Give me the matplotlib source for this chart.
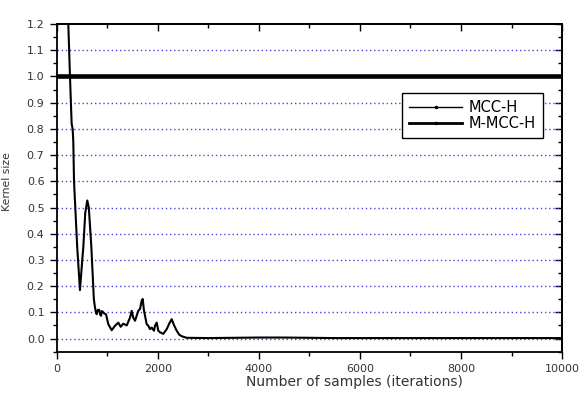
import numpy as np
import matplotlib.pyplot as plt
from matplotlib.lines import Line2D
from matplotlib.ticker import MultipleLocator

plt.rcParams['font.family'] = ['DejaVu Sans']

# MCC-H curve
mcc_x = [150, 224, 257, 290, 310, 323, 337, 400, 455, 500, 521, 560, 600, 630, 680,
         730, 752, 770, 786, 810, 838, 855, 871, 890, 917, 940, 970, 1016, 1083,
         1149, 1194, 1214, 1261, 1313, 1380, 1446, 1479, 1510, 1545, 1610, 1644,
         1677, 1697, 1720, 1743, 1776, 1808, 1842, 1875, 1920, 1941, 1974, 2006,
         2040, 2105, 2172, 2230, 2271, 2320, 2370, 2420, 2469, 2568, 3000, 3500,
         4000, 4500, 5000, 5500, 10000]
mcc_y = [1.45, 1.2, 1.0, 0.82, 0.80, 0.75, 0.6, 0.35, 0.185, 0.30, 0.349, 0.48, 0.527,
         0.50, 0.35, 0.15, 0.119, 0.10, 0.093, 0.11, 0.109, 0.092, 0.087, 0.105,
         0.10, 0.095, 0.093, 0.055, 0.032, 0.049, 0.057, 0.061, 0.045, 0.057,
         0.05, 0.08, 0.106, 0.08, 0.068, 0.106, 0.113, 0.144, 0.151, 0.11, 0.087,
         0.055, 0.049, 0.036, 0.042, 0.03, 0.049, 0.061, 0.03, 0.024, 0.018,
         0.036, 0.06, 0.074, 0.05, 0.03, 0.015, 0.009, 0.003, 0.002, 0.003,
         0.004, 0.004, 0.003, 0.002, 0.002]

# M-MCC-H stays at 1.0
mmcc_x = [0, 10000]
mmcc_y = [1.0, 1.0]

fig = plt.figure(figsize=(5.81, 4.03), dpi=100)
ax = fig.add_axes([0.0981, 0.1273, 0.8692, 0.8131])

for g in np.arange(0.0, 1.15, 0.1):
    ax.axhline(g, color='#4646d8', linestyle=(0, (1, 2)), linewidth=1.0, zorder=1)

ax.plot(mcc_x, mcc_y, color='black', linewidth=1.5, zorder=3)
ax.plot(mmcc_x, mmcc_y, color='black', linewidth=3.3, zorder=4)

ax.set_xlim(0, 10000)
ax.set_ylim(-0.05, 1.2)
ax.xaxis.set_major_locator(MultipleLocator(2000))
ax.xaxis.set_minor_locator(MultipleLocator(1000))
ax.yaxis.set_major_locator(MultipleLocator(0.1))
ax.yaxis.set_minor_locator(MultipleLocator(0.05))
ax.yaxis.set_major_formatter(plt.FormatStrFormatter('%.1f'))

# outer ticks on left/bottom, inner ticks on top/right
ax.tick_params(which='both', direction='out', labelsize=8, color='black',
               labelcolor='#333333', width=1.0)
ax.tick_params(which='major', length=5, pad=4)
ax.tick_params(which='minor', length=3)
sx = ax.secondary_xaxis('top')
sx.set_xticks(range(0, 10001, 2000))
sx.set_xticks(range(1000, 10001, 2000), minor=True)
sx.tick_params(which='both', direction='in', labeltop=False, width=1.0)
sx.tick_params(which='major', length=5)
sx.tick_params(which='minor', length=3)
sy = ax.secondary_yaxis('right')
sy.set_yticks(np.arange(0.0, 1.21, 0.1))
sy.set_yticks(np.arange(-0.05, 1.21, 0.1), minor=True)
sy.tick_params(which='both', direction='in', labelright=False, width=1.0)
sy.tick_params(which='major', length=5)
sy.tick_params(which='minor', length=3)
for a in (ax, sx, sy):
    for s in a.spines.values():
        s.set_linewidth(1.3)

ax.set_xlabel('Number of samples (iterations)', fontsize=10, color='#333333')
ax.xaxis.set_label_coords(0.588, -0.072)
ax.set_ylabel('Kernel size', fontsize=7.8, color='#333333')
ax.yaxis.set_label_coords(-0.09, 0.52)

handles = [Line2D([], [], color='black', linewidth=1.0, marker='.', markersize=3),
           Line2D([], [], color='black', linewidth=2.0, marker='.', markersize=3)]
leg = ax.legend(handles, ['MCC-H', 'M-MCC-H'], loc='upper right',
                bbox_to_anchor=(0.962, 0.789), fontsize=10.5, fancybox=False,
                edgecolor='black', framealpha=1, handlelength=3.6,
                borderpad=0.5, labelspacing=0.05, handletextpad=0.45,
                borderaxespad=0)
leg.get_frame().set_linewidth(1.0)

fig.savefig('out.png', dpi=100)
